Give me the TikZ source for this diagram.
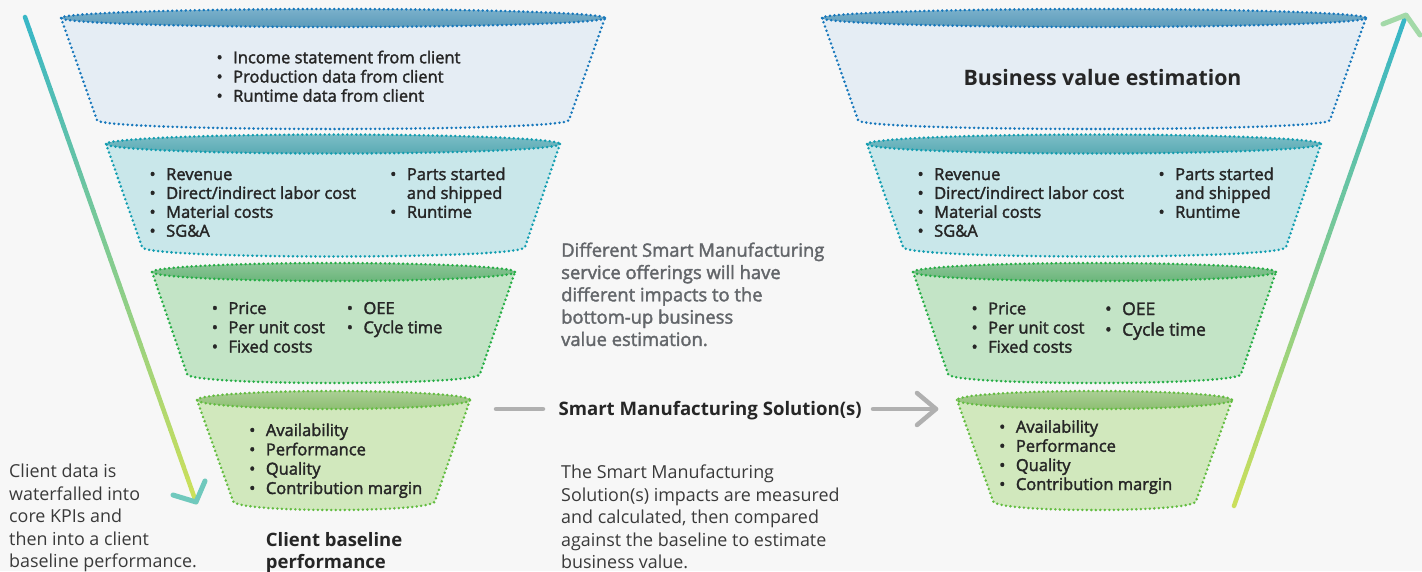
\documentclass[tikz,border=0pt]{standalone}
\usepackage{fontspec}
\setmainfont{Open Sans}
\newfontfamily\osb{Open Sans}[FakeBold=2]
\usetikzlibrary{calc}
\definecolor{bg}{HTML}{F7F7F7}
\definecolor{ink}{HTML}{262626}
\definecolor{para}{HTML}{3A3A3A}
\definecolor{graytxt}{HTML}{63666A}
\definecolor{garrow}{HTML}{B0B0B0}
\definecolor{aFill}{HTML}{E5EDF4}
\definecolor{aLine}{HTML}{1677BB}
\definecolor{aTop}{HTML}{7AB0CB}
\definecolor{aBot}{HTML}{5C9BBA}
\definecolor{bFill}{HTML}{C9E7EA}
\definecolor{bLine}{HTML}{119DB0}
\definecolor{bTop}{HTML}{7CBEC6}
\definecolor{bBot}{HTML}{5AAAB4}
\definecolor{cFill}{HTML}{C3E4C6}
\definecolor{cLine}{HTML}{25AD45}
\definecolor{cTop}{HTML}{8CC697}
\definecolor{cBot}{HTML}{6BB57B}
\definecolor{dFill}{HTML}{D1E8BD}
\definecolor{dLine}{HTML}{62BC40}
\definecolor{dTop}{HTML}{ABCF95}
\definecolor{dBot}{HTML}{8DBE72}
\definecolor{teal}{HTML}{36B6C8}
\definecolor{lime}{HTML}{CDE05A}
\definecolor{headL}{HTML}{70C9BD}
\definecolor{headR}{HTML}{A3D9A8}
\tikzset{
  dotb/.style={line width=2.8pt, dash pattern=on 0pt off 4.5pt, line cap=round},
  bul/.style={font=\osb\fontsize{16.5}{19}\selectfont, text=ink, inner sep=0pt, anchor=base west},
  bulbig/.style={bul, font=\osb\fontsize{17.5}{20}\selectfont},
  paratext/.style={font=\fontsize{17.9}{22}\selectfont, text=para, inner sep=0pt, anchor=base west},
  graypara/.style={font=\osb\fontsize{18.4}{22}\selectfont, text=graytxt, inner sep=0pt, anchor=base west},
  boldtitle/.style={font=\bfseries\fontsize{18.5}{21}\selectfont, text=ink, inner sep=0pt, anchor=base west},
  grayline/.style={line width=4.5pt, draw=garrow, line cap=round, line join=round},
  headline/.style={line width=5pt, line cap=round, line join=round}
}
% #1 name, #2 ty, #3 tlx, #4 trx, #5 by, #6 blx, #7 brx, #8 ry, #9 colour prefix
\newcommand\tier[9]{%
  \path[fill=#9Fill] (#3,#2) -- (#6,#5) .. controls (#6,{#5+4/3*#8}) and (#7,{#5+4/3*#8}) .. (#7,#5) -- (#4,#2) -- cycle;
  \draw[dotb,draw=#9Line] (#3,#2) -- (#6,#5) .. controls (#6,{#5+4/3*#8}) and (#7,{#5+4/3*#8}) .. (#7,#5) -- (#4,#2);
  \path[top color=#9Top,bottom color=#9Bot] ({(#3+#4)/2},#2) ellipse [x radius={(#4-#3)/2}, y radius=#8];
  \draw[dotb,draw=#9Line] ({(#3+#4)/2},#2) ellipse [x radius={(#4-#3)/2}, y radius=#8];
  \coordinate (#1) at ({(#3+#4)/2},{(#2+#5)/2});
}
\newcommand\bi[5][bul]{\node[#1] (#2) at (#3,#4) {\llap{\textbullet\hspace{10.5pt}}#5};}
\newcommand\bc[5][bul]{\node[#1] (#2) at (#3,#4) {#5};}
% gradient stroke: #1 from, #2 to, #3 colour at start, #4 colour at end, #5 width
\newcommand\gradline[5]{%
  \foreach \i in {0,...,39}{%
    \pgfmathsetmacro\ta{\i/40}%
    \pgfmathsetmacro\tb{(\i+1)/40}%
    \pgfmathtruncatemacro\pc{100-100*(\i+0.5)/40}%
    \draw[line width=#5, line cap=round, color=#3!\pc!#4] ($(#1)!\ta!(#2)$) -- ($(#1)!\tb!(#2)$);
  }}
\begin{document}
\begin{tikzpicture}[x=1pt,y=-1pt]
\fill[bg] (0,0) rectangle (1422,571);
\useasboundingbox (0,0) rectangle (1422,571);

% ---- left funnel
\tier{L1}{18}{61}{605}{120}{97}{569}{9}{a}
\tier{L2}{144}{106}{560}{247}{142}{525}{9.5}{b}
\tier{L3}{272}{152}{515}{374}{187}{480}{9}{c}
\tier{L4}{400}{197}{470}{501}{233}{435}{9}{d}
% ---- right funnel
\tier{R1}{18}{822}{1366}{120}{858}{1330}{9}{a}
\tier{R2}{144}{867}{1321}{247}{903}{1286}{9.5}{b}
\tier{R3}{272}{913}{1276}{374}{948}{1241}{9}{c}
\tier{R4}{400}{957}{1232}{501}{993}{1196}{9}{d}

% ---- left funnel texts
\bi{l1a}{233}{63.3}{Income statement from client}
\bi{l1b}{233}{82.5}{Production data from client}
\bi{l1c}{233}{101.7}{Runtime data from client}

\bi{l2a}{166}{180}{Revenue}
\bi{l2b}{166}{198.9}{Direct/indirect labor cost}
\bi{l2c}{166}{217.8}{Material costs}
\bi{l2d}{166}{236.7}{SG\&A}
\bi{l2e}{406.7}{180}{Parts started}
\bc{l2f}{406.7}{198.9}{and shipped}
\bi{l2g}{406.7}{217.8}{Runtime}

\bi{l3a}{228.3}{314}{Price}
\bi{l3b}{228.3}{333.2}{Per unit cost}
\bi{l3c}{228.3}{352.5}{Fixed costs}
\bi{l3d}{363.3}{314}{OEE}
\bi{l3e}{363.3}{333.2}{Cycle time}

\bi{l4a}{265.7}{436}{Availability}
\bi{l4b}{265.7}{455.3}{Performance}
\bi{l4c}{265.7}{474.6}{Quality}
\bi{l4d}{265.7}{494}{Contribution margin}

% ---- right funnel texts
\node[boldtitle, font=\bfseries\fontsize{21.3}{24}\selectfont, anchor=base] (bve) at (1102.5,85) {Business value estimation};

\bi{r2a}{934}{180}{Revenue}
\bi{r2b}{934}{198.9}{Direct/indirect labor cost}
\bi{r2c}{934}{217.8}{Material costs}
\bi{r2d}{934}{236.7}{SG\&A}
\bi{r2e}{1175}{180}{Parts started}
\bc{r2f}{1175}{198.9}{and shipped}
\bi{r2g}{1175}{217.8}{Runtime}

\bi{r3a}{988}{314.3}{Price}
\bi{r3b}{988}{333.5}{Per unit cost}
\bi{r3c}{988}{352.7}{Fixed costs}
\bi[bulbig]{r3d}{1122}{315}{OEE}
\bi[bulbig]{r3e}{1122}{335.7}{Cycle time}

\bi{r4a}{1015.7}{432.7}{Availability}
\bi{r4b}{1015.7}{451.8}{Performance}
\bi{r4c}{1015.7}{471}{Quality}
\bi{r4d}{1015.7}{490}{Contribution margin}

% ---- free texts
\node[paratext] (cd1) at (9,477.5) {Client data is};
\node[paratext] (cd2) at (9,500) {waterfalled into};
\node[paratext] (cd3) at (9,522.5) {core KPIs and};
\node[paratext] (cd4) at (9,545) {then into a client};
\node[paratext] (cd5) at (9,567.5) {baseline performance.};

\node[boldtitle] (cb1) at (265.7,546.7) {Client baseline};
\node[boldtitle] (cb2) at (265.7,568.5) {performance};

\node[graypara] (df1) at (561,256.7) {Different Smart Manufacturing};
\node[graypara] (df2) at (561,279) {service offerings will have};
\node[graypara] (df3) at (561,301.3) {different impacts to the};
\node[graypara] (df4) at (561,323.6) {bottom-up business};
\node[graypara] (df5) at (561,345.9) {value estimation.};

\node[paratext] (sm1) at (561,478.5) {The Smart Manufacturing};
\node[paratext] (sm2) at (561,501) {Solution(s) impacts are measured};
\node[paratext] (sm3) at (561,523.5) {and calculated, then compared};
\node[paratext] (sm4) at (561,546) {against the baseline to estimate};
\node[paratext] (sm5) at (561,568.5) {business value.};

\node[boldtitle, font=\bfseries\fontsize{18.6}{22}\selectfont] (sms) at (558.3,415) {Smart Manufacturing Solution(s)};

% ---- grey connector
\coordinate (g1) at (496,409);
\coordinate (g2) at (543,409);
\coordinate (g3) at (873,409);
\coordinate (g4) at (936,409);
\coordinate (g5) at (917,393);
\coordinate (g6) at (917,425);
\draw[grayline] (g1) -- (g2);
\draw[grayline] (g3) -- (g4);
\draw[grayline] (g5) -- (g4) -- (g6);

% ---- left gradient arrow (down)
\coordinate (la) at (25,17);
\coordinate (lb) at (196,502);
\coordinate (lh1) at (173,495);
\coordinate (lh2) at (205,481);
\gradline{la}{lb}{teal}{lime}{4.5pt}
\draw[headline, draw=headL] (lh1) -- (lb) -- (lh2);

% ---- right gradient arrow (up)
\coordinate (ra) at (1234,506);
\coordinate (rb) at (1406,15);
\coordinate (rh1) at (1383,24);
\coordinate (rh2) at (1420,35);
\gradline{ra}{rb}{lime}{teal}{4.5pt}
\draw[headline, draw=headR] (rh1) -- (rb) -- (rh2);
\end{tikzpicture}
\end{document}
